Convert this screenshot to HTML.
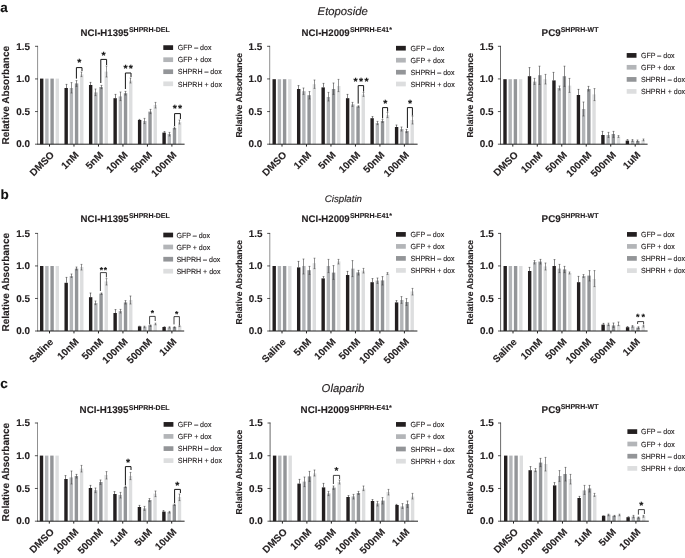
<!DOCTYPE html>
<html><head><meta charset="utf-8"><title>Figure</title>
<style>
html,body{margin:0;padding:0;background:#fff;}
body{width:685px;height:558px;overflow:hidden;}
svg{display:block;font-family:"Liberation Sans", sans-serif;text-rendering:geometricPrecision;}
.b{font-weight:bold;}
.t{stroke:#231f20;stroke-width:0.13px;font-weight:bold;fill:#231f20;}
.u{stroke:#231f20;stroke-width:0.13px;font-size:7px;font-weight:bold;fill:#231f20;}
.l{font-size:7.4px;fill:#231f20;stroke:#231f20;stroke-width:0.12px;}
.h{font-style:italic;fill:#231f20;stroke:#231f20;stroke-width:0.15px;}
.p{stroke:#231f20;stroke-width:0.13px;font-size:13.5px;font-weight:bold;fill:#111;}
.s{font-weight:bold;fill:#111;text-anchor:middle;stroke:#111;stroke-width:0.12px;}
.x{stroke:#231f20;stroke-width:0.13px;font-size:9.95px;font-weight:bold;fill:#231f20;text-anchor:end;}
.y{stroke:#231f20;stroke-width:0.13px;font-size:9.9px;font-weight:bold;fill:#231f20;text-anchor:end;}
.yl{stroke:#231f20;stroke-width:0.13px;font-weight:bold;fill:#231f20;text-anchor:middle;}
</style></head><body>
<svg width="685" height="558" viewBox="0 0 685 558">
<rect x="0" y="0" width="685" height="558" fill="#ffffff"/>
<text class="h" font-size="11.3px" x="317.6" y="14.6">Etoposide</text>
<text class="h" font-size="9.7px" x="324.8" y="202">Cisplatin</text>
<text class="h" font-size="11.3px" x="321.6" y="392">Olaparib</text>
<text class="p" x="0.3" y="12">a</text>
<text class="p" x="0.5" y="199.2">b</text>
<text class="p" x="0.3" y="387.6">c</text>
<g>
<text class="t" font-size="9.62px" x="80.6" y="36">NCI-H1395</text><text class="u" x="128.95" y="32">SHPRH-DEL</text>
<rect x="40" y="78.6" width="3.4" height="65.6" fill="#231f20"/>
<rect x="45.2" y="78.6" width="3.4" height="65.6" fill="#b3b5b8"/>
<rect x="50.4" y="78.6" width="3.4" height="65.6" fill="#939598"/>
<rect x="55.6" y="78.6" width="3.4" height="65.6" fill="#dddedf"/>
<rect x="64.48" y="88" width="3.4" height="56.2" fill="#231f20"/>
<rect x="69.68" y="88" width="3.4" height="56.2" fill="#b3b5b8"/>
<rect x="74.88" y="83.4" width="3.4" height="60.8" fill="#939598"/>
<rect x="80.08" y="74.4" width="3.4" height="69.8" fill="#dddedf"/>
<path d="M66.5 84.4V88M65.6 84.4h1.8" stroke="#3a3a3a" stroke-width="0.62" fill="none"/>
<path d="M71.5 82.6V93M70.6 82.6h1.8M70.6 93h1.8" stroke="#4a4a4a" stroke-width="0.62" fill="none"/>
<path d="M76.5 80.6V86.4M75.6 80.6h1.8M75.6 86.4h1.8" stroke="#444444" stroke-width="0.62" fill="none"/>
<path d="M81.5 72V76.6M80.6 72h1.8M80.6 76.6h1.8" stroke="#505050" stroke-width="0.62" fill="none"/>
<rect x="88.96" y="85" width="3.4" height="59.2" fill="#231f20"/>
<rect x="94.16" y="92.4" width="3.4" height="51.8" fill="#b3b5b8"/>
<rect x="99.36" y="87" width="3.4" height="57.2" fill="#939598"/>
<rect x="104.56" y="71.6" width="3.4" height="72.6" fill="#dddedf"/>
<path d="M90.5 82.4V85M89.6 82.4h1.8" stroke="#3a3a3a" stroke-width="0.62" fill="none"/>
<path d="M95.5 89V95.6M94.6 89h1.8M94.6 95.6h1.8" stroke="#4a4a4a" stroke-width="0.62" fill="none"/>
<path d="M101.5 85.4V88.6M100.6 85.4h1.8M100.6 88.6h1.8" stroke="#444444" stroke-width="0.62" fill="none"/>
<path d="M106.5 66V77M105.6 66h1.8M105.6 77h1.8" stroke="#505050" stroke-width="0.62" fill="none"/>
<rect x="113.44" y="98.2" width="3.4" height="46" fill="#231f20"/>
<rect x="118.64" y="96.4" width="3.4" height="47.8" fill="#b3b5b8"/>
<rect x="123.84" y="93.2" width="3.4" height="51" fill="#939598"/>
<rect x="129.04" y="80.6" width="3.4" height="63.6" fill="#dddedf"/>
<path d="M115.5 94.4V98.2M114.6 94.4h1.8" stroke="#3a3a3a" stroke-width="0.62" fill="none"/>
<path d="M120.5 92V100.6M119.6 92h1.8M119.6 100.6h1.8" stroke="#4a4a4a" stroke-width="0.62" fill="none"/>
<path d="M125.5 91.4V95M124.6 91.4h1.8M124.6 95h1.8" stroke="#444444" stroke-width="0.62" fill="none"/>
<path d="M130.5 78V83M129.6 78h1.8M129.6 83h1.8" stroke="#505050" stroke-width="0.62" fill="none"/>
<rect x="137.92" y="120" width="3.4" height="24.2" fill="#231f20"/>
<rect x="143.12" y="121" width="3.4" height="23.2" fill="#b3b5b8"/>
<rect x="148.32" y="111.6" width="3.4" height="32.6" fill="#939598"/>
<rect x="153.52" y="105" width="3.4" height="39.2" fill="#dddedf"/>
<path d="M139.5 119.4V120M138.6 119.4h1.8" stroke="#3a3a3a" stroke-width="0.62" fill="none"/>
<path d="M144.5 118.4V123.6M143.6 118.4h1.8M143.6 123.6h1.8" stroke="#4a4a4a" stroke-width="0.62" fill="none"/>
<path d="M150.5 109.4V113.6M149.6 109.4h1.8M149.6 113.6h1.8" stroke="#444444" stroke-width="0.62" fill="none"/>
<path d="M155.5 102.4V108M154.6 102.4h1.8M154.6 108h1.8" stroke="#505050" stroke-width="0.62" fill="none"/>
<rect x="162.4" y="132.6" width="3.4" height="11.6" fill="#231f20"/>
<rect x="167.6" y="134" width="3.4" height="10.2" fill="#b3b5b8"/>
<rect x="172.8" y="128" width="3.4" height="16.2" fill="#939598"/>
<rect x="178" y="122" width="3.4" height="22.2" fill="#dddedf"/>
<path d="M164.5 131.6V132.6M163.6 131.6h1.8" stroke="#3a3a3a" stroke-width="0.62" fill="none"/>
<path d="M169.5 132.4V136M168.6 132.4h1.8M168.6 136h1.8" stroke="#4a4a4a" stroke-width="0.62" fill="none"/>
<path d="M174.5 127V129M173.6 127h1.8M173.6 129h1.8" stroke="#444444" stroke-width="0.62" fill="none"/>
<path d="M179.5 120V124M178.6 120h1.8M178.6 124h1.8" stroke="#505050" stroke-width="0.62" fill="none"/>
<path d="M37.6 45.9V144.2" stroke="#444" stroke-width="0.6" fill="none"/>
<path d="M35 46.3H37.9M35 78.93H37.9M35 111.57H37.9M35 144.2H37.9" stroke="#2a2a2a" stroke-width="0.8" fill="none"/>
<path d="M37.3 144.2H184.6M49.5 144.2V146.6M73.98 144.2V146.6M98.46 144.2V146.6M122.94 144.2V146.6M147.42 144.2V146.6M171.9 144.2V146.6" stroke="#222" stroke-width="1" fill="none"/>
<text class="y" x="30.1" y="50">1.5</text>
<text class="y" x="30.1" y="82">1.0</text>
<text class="y" x="30.1" y="115">0.5</text>
<text class="y" x="30.1" y="147">0.0</text>
<text class="yl" font-size="10px" transform="translate(9.1 95.25) rotate(-90) scale(1 1)">Relative Absorbance</text>
<text class="x" transform="translate(54.8 155.6) rotate(-45)">DMSO</text>
<text class="x" transform="translate(79.28 155.6) rotate(-45)">1nM</text>
<text class="x" transform="translate(103.76 155.6) rotate(-45)">5nM</text>
<text class="x" transform="translate(128.24 155.6) rotate(-45)">10nM</text>
<text class="x" transform="translate(152.72 155.6) rotate(-45)">50nM</text>
<text class="x" transform="translate(177.2 155.6) rotate(-45)">100nM</text>
<rect x="163.3" y="45.25" width="9.8" height="4.7" fill="#231f20"/>
<text class="l" transform="translate(177.8 50) scale(0.955 1)">GFP – dox</text>
<rect x="163.3" y="57.35" width="9.8" height="4.7" fill="#b3b5b8"/>
<text class="l" transform="translate(177.8 62) scale(0.955 1)">GFP + dox</text>
<rect x="163.3" y="69.35" width="9.8" height="4.7" fill="#939598"/>
<text class="l" transform="translate(177.8 74) scale(0.955 1)">SHPRH – dox</text>
<rect x="163.3" y="81.45" width="9.8" height="4.7" fill="#dddedf"/>
<text class="l" transform="translate(177.8 87) scale(0.955 1)">SHPRH + dox</text>
<path d="M76.4 78.6V67.6H82V71" stroke="#151515" stroke-width="1" fill="none"/>
<text class="s" font-size="10.5px" letter-spacing="1.32px" x="79.86" y="66.43">*</text>
<path d="M100.8 83V59.4H106.6V65" stroke="#151515" stroke-width="1" fill="none"/>
<text class="s" font-size="10.5px" letter-spacing="1.32px" x="104.26" y="58.83">*</text>
<path d="M125.4 89V73H131V77" stroke="#151515" stroke-width="1" fill="none"/>
<text class="s" font-size="10.5px" letter-spacing="1.32px" x="128.86" y="72.03">**</text>
<path d="M174.6 126V113.6H180.4V119" stroke="#151515" stroke-width="1" fill="none"/>
<text class="s" font-size="10.5px" letter-spacing="1.32px" x="178.06" y="112.43">**</text>
</g>
<g>
<text class="t" font-size="9.62px" x="301.6" y="36">NCI-H2009</text><text class="u" x="349.95" y="32">SHPRH-E41*</text>
<rect x="272.5" y="79.2" width="3.4" height="65" fill="#231f20"/>
<rect x="277.7" y="79.2" width="3.4" height="65" fill="#b3b5b8"/>
<rect x="282.9" y="79.2" width="3.4" height="65" fill="#939598"/>
<rect x="288.1" y="79.2" width="3.4" height="65" fill="#dddedf"/>
<rect x="296.98" y="89" width="3.4" height="55.2" fill="#231f20"/>
<rect x="302.18" y="91.2" width="3.4" height="53" fill="#b3b5b8"/>
<rect x="307.38" y="95.2" width="3.4" height="49" fill="#939598"/>
<rect x="312.58" y="84.2" width="3.4" height="60" fill="#dddedf"/>
<path d="M298.5 85.6V89M297.6 85.6h1.8" stroke="#3a3a3a" stroke-width="0.62" fill="none"/>
<path d="M303.5 88V94.4M302.6 88h1.8M302.6 94.4h1.8" stroke="#4a4a4a" stroke-width="0.62" fill="none"/>
<path d="M309.5 91.6V99M308.6 91.6h1.8M308.6 99h1.8" stroke="#444444" stroke-width="0.62" fill="none"/>
<path d="M314.5 80V88.4M313.6 80h1.8M313.6 88.4h1.8" stroke="#505050" stroke-width="0.62" fill="none"/>
<rect x="321.46" y="87.4" width="3.4" height="56.8" fill="#231f20"/>
<rect x="326.66" y="97" width="3.4" height="47.2" fill="#b3b5b8"/>
<rect x="331.86" y="89" width="3.4" height="55.2" fill="#939598"/>
<rect x="337.06" y="86" width="3.4" height="58.2" fill="#dddedf"/>
<path d="M323.5 83.4V87.4M322.6 83.4h1.8" stroke="#3a3a3a" stroke-width="0.62" fill="none"/>
<path d="M328.5 92.4V101M327.6 92.4h1.8M327.6 101h1.8" stroke="#4a4a4a" stroke-width="0.62" fill="none"/>
<path d="M333.5 83V94.4M332.6 83h1.8M332.6 94.4h1.8" stroke="#444444" stroke-width="0.62" fill="none"/>
<path d="M338.5 79.4V91.6M337.6 79.4h1.8M337.6 91.6h1.8" stroke="#505050" stroke-width="0.62" fill="none"/>
<rect x="345.94" y="98.2" width="3.4" height="46" fill="#231f20"/>
<rect x="351.14" y="104.4" width="3.4" height="39.8" fill="#b3b5b8"/>
<rect x="356.34" y="106.4" width="3.4" height="37.8" fill="#939598"/>
<rect x="361.54" y="94.4" width="3.4" height="49.8" fill="#dddedf"/>
<path d="M347.5 94.4V98.2M346.6 94.4h1.8" stroke="#3a3a3a" stroke-width="0.62" fill="none"/>
<path d="M352.5 102.4V106.4M351.6 102.4h1.8M351.6 106.4h1.8" stroke="#4a4a4a" stroke-width="0.62" fill="none"/>
<path d="M358.5 105.8V107.2M357.6 105.8h1.8M357.6 107.2h1.8" stroke="#444444" stroke-width="0.62" fill="none"/>
<path d="M363.5 92.4V96.4M362.6 92.4h1.8M362.6 96.4h1.8" stroke="#505050" stroke-width="0.62" fill="none"/>
<rect x="370.42" y="118.2" width="3.4" height="26" fill="#231f20"/>
<rect x="375.62" y="123" width="3.4" height="21.2" fill="#b3b5b8"/>
<rect x="380.82" y="121" width="3.4" height="23.2" fill="#939598"/>
<rect x="386.02" y="115.2" width="3.4" height="29" fill="#dddedf"/>
<path d="M372.5 116.6V118.2M371.6 116.6h1.8" stroke="#3a3a3a" stroke-width="0.62" fill="none"/>
<path d="M377.5 121.4V124.6M376.6 121.4h1.8M376.6 124.6h1.8" stroke="#4a4a4a" stroke-width="0.62" fill="none"/>
<path d="M382.5 119.6V122.4M381.6 119.6h1.8M381.6 122.4h1.8" stroke="#444444" stroke-width="0.62" fill="none"/>
<path d="M387.5 112.4V117.6M386.6 112.4h1.8M386.6 117.6h1.8" stroke="#505050" stroke-width="0.62" fill="none"/>
<rect x="394.9" y="127" width="3.4" height="17.2" fill="#231f20"/>
<rect x="400.1" y="129" width="3.4" height="15.2" fill="#b3b5b8"/>
<rect x="405.3" y="131" width="3.4" height="13.2" fill="#939598"/>
<rect x="410.5" y="120" width="3.4" height="24.2" fill="#dddedf"/>
<path d="M396.5 125V127M395.6 125h1.8" stroke="#3a3a3a" stroke-width="0.62" fill="none"/>
<path d="M401.5 127V131M400.6 127h1.8M400.6 131h1.8" stroke="#4a4a4a" stroke-width="0.62" fill="none"/>
<path d="M406.5 129.4V132.6M405.6 129.4h1.8M405.6 132.6h1.8" stroke="#444444" stroke-width="0.62" fill="none"/>
<path d="M412.5 116V124M411.6 116h1.8M411.6 124h1.8" stroke="#505050" stroke-width="0.62" fill="none"/>
<path d="M269.7 45.9V144.2" stroke="#444" stroke-width="0.6" fill="none"/>
<path d="M267.1 46.3H270M267.1 78.93H270M267.1 111.57H270M267.1 144.2H270" stroke="#2a2a2a" stroke-width="0.8" fill="none"/>
<path d="M269.4 144.2H417.6M282 144.2V146.6M306.48 144.2V146.6M330.96 144.2V146.6M355.44 144.2V146.6M379.92 144.2V146.6M404.4 144.2V146.6" stroke="#222" stroke-width="1" fill="none"/>
<text class="y" x="262.3" y="50">1.5</text>
<text class="y" x="262.3" y="82">1.0</text>
<text class="y" x="262.3" y="115">0.5</text>
<text class="y" x="262.3" y="147">0.0</text>
<text class="yl" font-size="8.6px" transform="translate(242.3 95.25) rotate(-90) scale(1 1)">Relative Absorbance</text>
<text class="x" transform="translate(287.3 155.6) rotate(-45)">DMSO</text>
<text class="x" transform="translate(311.78 155.6) rotate(-45)">1nM</text>
<text class="x" transform="translate(336.26 155.6) rotate(-45)">5nM</text>
<text class="x" transform="translate(360.74 155.6) rotate(-45)">10nM</text>
<text class="x" transform="translate(385.22 155.6) rotate(-45)">50nM</text>
<text class="x" transform="translate(409.7 155.6) rotate(-45)">100nM</text>
<rect x="396" y="45.85" width="9.8" height="4.7" fill="#231f20"/>
<text class="l" transform="translate(410.6 51) scale(0.955 1)">GFP – dox</text>
<rect x="396" y="57.85" width="9.8" height="4.7" fill="#b3b5b8"/>
<text class="l" transform="translate(410.6 63) scale(0.955 1)">GFP + dox</text>
<rect x="396" y="69.85" width="9.8" height="4.7" fill="#939598"/>
<text class="l" transform="translate(410.6 75) scale(0.955 1)">SHPRH – dox</text>
<rect x="396" y="81.65" width="9.8" height="4.7" fill="#dddedf"/>
<text class="l" transform="translate(410.6 87) scale(0.955 1)">SHPRH + dox</text>
<path d="M358.2 103.6V85.6H363.6V91.6" stroke="#151515" stroke-width="1" fill="none"/>
<text class="s" font-size="10.5px" letter-spacing="1.42px" x="361.71" y="85.03">***</text>
<path d="M382.6 118.4V107.6H387.6V111.6" stroke="#151515" stroke-width="1" fill="none"/>
<text class="s" font-size="10.5px" letter-spacing="1.42px" x="385.91" y="107.43">*</text>
<path d="M407.4 128V107.6H412.4V115.6" stroke="#151515" stroke-width="1" fill="none"/>
<text class="s" font-size="10.5px" letter-spacing="1.42px" x="410.71" y="107.43">*</text>
</g>
<g>
<text class="t" font-size="9.8px" x="541.6" y="36">PC9</text><text class="u" x="560.7" y="32">SHPRH-WT</text>
<rect x="503.3" y="79.2" width="3.4" height="65" fill="#231f20"/>
<rect x="508.5" y="79.2" width="3.4" height="65" fill="#b3b5b8"/>
<rect x="513.7" y="79.2" width="3.4" height="65" fill="#939598"/>
<rect x="518.9" y="79.2" width="3.4" height="65" fill="#dddedf"/>
<rect x="527.78" y="76.2" width="3.4" height="68" fill="#231f20"/>
<rect x="532.98" y="81.6" width="3.4" height="62.6" fill="#b3b5b8"/>
<rect x="538.18" y="75.2" width="3.4" height="69" fill="#939598"/>
<rect x="543.38" y="79.2" width="3.4" height="65" fill="#dddedf"/>
<path d="M529.5 67.6V76.2M528.6 67.6h1.8" stroke="#3a3a3a" stroke-width="0.62" fill="none"/>
<path d="M534.5 78.4V84.4M533.6 78.4h1.8M533.6 84.4h1.8" stroke="#4a4a4a" stroke-width="0.62" fill="none"/>
<path d="M539.5 66.2V84.4M538.6 66.2h1.8M538.6 84.4h1.8" stroke="#444444" stroke-width="0.62" fill="none"/>
<path d="M545.5 74.4V84M544.6 74.4h1.8M544.6 84h1.8" stroke="#505050" stroke-width="0.62" fill="none"/>
<rect x="552.26" y="80.4" width="3.4" height="63.8" fill="#231f20"/>
<rect x="557.46" y="88" width="3.4" height="56.2" fill="#b3b5b8"/>
<rect x="562.66" y="76.2" width="3.4" height="68" fill="#939598"/>
<rect x="567.86" y="85.6" width="3.4" height="58.6" fill="#dddedf"/>
<path d="M553.5 72.4V80.4M552.6 72.4h1.8" stroke="#3a3a3a" stroke-width="0.62" fill="none"/>
<path d="M559.5 86V90M558.6 86h1.8M558.6 90h1.8" stroke="#4a4a4a" stroke-width="0.62" fill="none"/>
<path d="M564.5 66.2V86.4M563.6 66.2h1.8M563.6 86.4h1.8" stroke="#444444" stroke-width="0.62" fill="none"/>
<path d="M569.5 78.4V92.4M568.6 78.4h1.8M568.6 92.4h1.8" stroke="#505050" stroke-width="0.62" fill="none"/>
<rect x="576.74" y="95" width="3.4" height="49.2" fill="#231f20"/>
<rect x="581.94" y="109" width="3.4" height="35.2" fill="#b3b5b8"/>
<rect x="587.14" y="89" width="3.4" height="55.2" fill="#939598"/>
<rect x="592.34" y="94.4" width="3.4" height="49.8" fill="#dddedf"/>
<path d="M578.5 89.4V95M577.6 89.4h1.8" stroke="#3a3a3a" stroke-width="0.62" fill="none"/>
<path d="M583.5 102V116M582.6 102h1.8M582.6 116h1.8" stroke="#4a4a4a" stroke-width="0.62" fill="none"/>
<path d="M588.5 86.4V91M587.6 86.4h1.8M587.6 91h1.8" stroke="#444444" stroke-width="0.62" fill="none"/>
<path d="M594.5 88.6V100.6M593.6 88.6h1.8M593.6 100.6h1.8" stroke="#505050" stroke-width="0.62" fill="none"/>
<rect x="601.22" y="135" width="3.4" height="9.2" fill="#231f20"/>
<rect x="606.42" y="135" width="3.4" height="9.2" fill="#b3b5b8"/>
<rect x="611.62" y="134" width="3.4" height="10.2" fill="#939598"/>
<rect x="616.82" y="136.6" width="3.4" height="7.6" fill="#dddedf"/>
<path d="M602.5 131.4V135M601.6 131.4h1.8" stroke="#3a3a3a" stroke-width="0.62" fill="none"/>
<path d="M608.5 132.4V137.4M607.6 132.4h1.8M607.6 137.4h1.8" stroke="#4a4a4a" stroke-width="0.62" fill="none"/>
<path d="M613.5 131.4V137.4M612.6 131.4h1.8M612.6 137.4h1.8" stroke="#444444" stroke-width="0.62" fill="none"/>
<path d="M618.5 135.6V137.4M617.6 135.6h1.8M617.6 137.4h1.8" stroke="#505050" stroke-width="0.62" fill="none"/>
<rect x="625.7" y="140.6" width="3.4" height="3.6" fill="#231f20"/>
<rect x="630.9" y="140.6" width="3.4" height="3.6" fill="#b3b5b8"/>
<rect x="636.1" y="141" width="3.4" height="3.2" fill="#939598"/>
<rect x="641.3" y="140" width="3.4" height="4.2" fill="#dddedf"/>
<path d="M627.5 139.6V140.6M626.6 139.6h1.8" stroke="#3a3a3a" stroke-width="0.62" fill="none"/>
<path d="M632.5 139.6V141.4M631.6 139.6h1.8M631.6 141.4h1.8" stroke="#4a4a4a" stroke-width="0.62" fill="none"/>
<path d="M637.5 140V141.8M636.6 140h1.8M636.6 141.8h1.8" stroke="#444444" stroke-width="0.62" fill="none"/>
<path d="M643.5 139V140.8M642.6 139h1.8M642.6 140.8h1.8" stroke="#505050" stroke-width="0.62" fill="none"/>
<path d="M500.5 45.9V144.2" stroke="#444" stroke-width="0.8" fill="none"/>
<path d="M497.9 46.3H500.8M497.9 78.93H500.8M497.9 111.57H500.8M497.9 144.2H500.8" stroke="#2a2a2a" stroke-width="0.8" fill="none"/>
<path d="M500.2 144.2H647.6M512.8 144.2V146.6M537.28 144.2V146.6M561.76 144.2V146.6M586.24 144.2V146.6M610.72 144.2V146.6M635.2 144.2V146.6" stroke="#222" stroke-width="1" fill="none"/>
<text class="y" x="493.6" y="50">1.5</text>
<text class="y" x="493.6" y="82">1.0</text>
<text class="y" x="493.6" y="115">0.5</text>
<text class="y" x="493.6" y="147">0.0</text>
<text class="yl" font-size="8.6px" transform="translate(473.3 95.25) rotate(-90) scale(1 1)">Relative Absorbance</text>
<text class="x" transform="translate(518.6 155.6) rotate(-45)">DMSO</text>
<text class="x" transform="translate(543.08 155.6) rotate(-45)">10nM</text>
<text class="x" transform="translate(567.56 155.6) rotate(-45)">50nM</text>
<text class="x" transform="translate(592.04 155.6) rotate(-45)">100nM</text>
<text class="x" transform="translate(616.52 155.6) rotate(-45)">500nM</text>
<text class="x" transform="translate(641 155.6) rotate(-45)">1uM</text>
<rect x="626.7" y="53.05" width="9.8" height="4.7" fill="#231f20"/>
<text class="l" transform="translate(641 58) scale(0.955 1)">GFP – dox</text>
<rect x="626.7" y="64.95" width="9.8" height="4.7" fill="#b3b5b8"/>
<text class="l" transform="translate(641 70) scale(0.955 1)">GFP + dox</text>
<rect x="626.7" y="77.05" width="9.8" height="4.7" fill="#939598"/>
<text class="l" transform="translate(641 82) scale(0.955 1)">SHPRH – dox</text>
<rect x="626.7" y="89.05" width="9.8" height="4.7" fill="#dddedf"/>
<text class="l" transform="translate(641 94) scale(0.955 1)">SHPRH + dox</text>
</g>
<g>
<text class="t" font-size="9.62px" x="80.6" y="222">NCI-H1395</text><text class="u" x="128.95" y="218">SHPRH-DEL</text>
<rect x="40" y="266" width="3.4" height="65" fill="#231f20"/>
<rect x="45.2" y="266" width="3.4" height="65" fill="#b3b5b8"/>
<rect x="50.4" y="266" width="3.4" height="65" fill="#939598"/>
<rect x="55.6" y="266" width="3.4" height="65" fill="#dddedf"/>
<rect x="64.48" y="282.8" width="3.4" height="48.2" fill="#231f20"/>
<rect x="69.68" y="276" width="3.4" height="55" fill="#b3b5b8"/>
<rect x="74.88" y="268.6" width="3.4" height="62.4" fill="#939598"/>
<rect x="80.08" y="267" width="3.4" height="64" fill="#dddedf"/>
<path d="M66.5 277.4V282.8M65.6 277.4h1.8" stroke="#3a3a3a" stroke-width="0.62" fill="none"/>
<path d="M71.5 274V277.4M70.6 274h1.8M70.6 277.4h1.8" stroke="#4a4a4a" stroke-width="0.62" fill="none"/>
<path d="M76.5 267V270M75.6 267h1.8M75.6 270h1.8" stroke="#444444" stroke-width="0.62" fill="none"/>
<path d="M81.5 264.4V270M80.6 264.4h1.8M80.6 270h1.8" stroke="#505050" stroke-width="0.62" fill="none"/>
<rect x="88.96" y="297.2" width="3.4" height="33.8" fill="#231f20"/>
<rect x="94.16" y="303" width="3.4" height="28" fill="#b3b5b8"/>
<rect x="99.36" y="293.6" width="3.4" height="37.4" fill="#939598"/>
<rect x="104.56" y="281.4" width="3.4" height="49.6" fill="#dddedf"/>
<path d="M90.5 293V297.2M89.6 293h1.8" stroke="#3a3a3a" stroke-width="0.62" fill="none"/>
<path d="M95.5 301V304.6M94.6 301h1.8M94.6 304.6h1.8" stroke="#4a4a4a" stroke-width="0.62" fill="none"/>
<path d="M101.5 293V294.4M100.6 293h1.8M100.6 294.4h1.8" stroke="#444444" stroke-width="0.62" fill="none"/>
<path d="M106.5 278.6V285M105.6 278.6h1.8M105.6 285h1.8" stroke="#505050" stroke-width="0.62" fill="none"/>
<rect x="113.44" y="313" width="3.4" height="18" fill="#231f20"/>
<rect x="118.64" y="311" width="3.4" height="20" fill="#b3b5b8"/>
<rect x="123.84" y="302.4" width="3.4" height="28.6" fill="#939598"/>
<rect x="129.04" y="300" width="3.4" height="31" fill="#dddedf"/>
<path d="M115.5 309.6V313M114.6 309.6h1.8" stroke="#3a3a3a" stroke-width="0.62" fill="none"/>
<path d="M120.5 309.4V313M119.6 309.4h1.8M119.6 313h1.8" stroke="#4a4a4a" stroke-width="0.62" fill="none"/>
<path d="M125.5 300.6V304M124.6 300.6h1.8M124.6 304h1.8" stroke="#444444" stroke-width="0.62" fill="none"/>
<path d="M130.5 296V304M129.6 296h1.8M129.6 304h1.8" stroke="#505050" stroke-width="0.62" fill="none"/>
<rect x="137.92" y="326.4" width="3.4" height="4.6" fill="#231f20"/>
<rect x="143.12" y="326.6" width="3.4" height="4.4" fill="#b3b5b8"/>
<rect x="148.32" y="325.2" width="3.4" height="5.8" fill="#939598"/>
<rect x="153.52" y="324" width="3.4" height="7" fill="#dddedf"/>
<path d="M139.5 326.2V326.4M138.6 326.2h1.8" stroke="#3a3a3a" stroke-width="0.62" fill="none"/>
<path d="M144.5 326.2V327.8M143.6 326.2h1.8M143.6 327.8h1.8" stroke="#4a4a4a" stroke-width="0.62" fill="none"/>
<path d="M150.5 325V326.4M149.6 325h1.8M149.6 326.4h1.8" stroke="#444444" stroke-width="0.62" fill="none"/>
<path d="M155.5 323.2V324.8M154.6 323.2h1.8M154.6 324.8h1.8" stroke="#505050" stroke-width="0.62" fill="none"/>
<rect x="162.4" y="327" width="3.4" height="4" fill="#231f20"/>
<rect x="167.6" y="327.4" width="3.4" height="3.6" fill="#b3b5b8"/>
<rect x="172.8" y="327" width="3.4" height="4" fill="#939598"/>
<rect x="178" y="326" width="3.4" height="5" fill="#dddedf"/>
<path d="M164.5 326.8V327M163.6 326.8h1.8" stroke="#3a3a3a" stroke-width="0.62" fill="none"/>
<path d="M169.5 326.8V328M168.6 326.8h1.8M168.6 328h1.8" stroke="#4a4a4a" stroke-width="0.62" fill="none"/>
<path d="M174.5 326.8V328M173.6 326.8h1.8M173.6 328h1.8" stroke="#444444" stroke-width="0.62" fill="none"/>
<path d="M179.5 325.4V326.6M178.6 325.4h1.8M178.6 326.6h1.8" stroke="#505050" stroke-width="0.62" fill="none"/>
<path d="M37.6 233V331" stroke="#444" stroke-width="0.6" fill="none"/>
<path d="M35 233.4H37.9M35 265.93H37.9M35 298.47H37.9M35 331H37.9" stroke="#2a2a2a" stroke-width="0.8" fill="none"/>
<path d="M37.3 331H184.2M49.5 331V333.4M73.98 331V333.4M98.46 331V333.4M122.94 331V333.4M147.42 331V333.4M171.9 331V333.4" stroke="#222" stroke-width="1" fill="none"/>
<text class="y" x="30.1" y="237">1.5</text>
<text class="y" x="30.1" y="269">1.0</text>
<text class="y" x="30.1" y="302">0.5</text>
<text class="y" x="30.1" y="334">0.0</text>
<text class="yl" font-size="10px" transform="translate(9.1 282.2) rotate(-90) scale(1 1)">Relative Absorbance</text>
<text class="x" transform="translate(53.9 342.6) rotate(-45)">Saline</text>
<text class="x" transform="translate(79.28 342.4) rotate(-45)">10nM</text>
<text class="x" transform="translate(103.76 342.4) rotate(-45)">50nM</text>
<text class="x" transform="translate(128.24 342.4) rotate(-45)">100nM</text>
<text class="x" transform="translate(152.72 342.4) rotate(-45)">500nM</text>
<text class="x" transform="translate(177.2 342.4) rotate(-45)">1uM</text>
<rect x="163.3" y="232.65" width="9.8" height="4.7" fill="#231f20"/>
<text class="l" transform="translate(176.4 238) scale(0.955 1)">GFP – dox</text>
<rect x="163.3" y="244.65" width="9.8" height="4.7" fill="#b3b5b8"/>
<text class="l" transform="translate(176.4 250) scale(0.955 1)">GFP + dox</text>
<rect x="163.3" y="256.85" width="9.8" height="4.7" fill="#939598"/>
<text class="l" transform="translate(176.4 262) scale(0.955 1)">SHPRH – dox</text>
<rect x="163.3" y="268.85" width="9.8" height="4.7" fill="#dddedf"/>
<text class="l" transform="translate(176.4 274) scale(0.955 1)">SHPRH + dox</text>
<path d="M100.4 291V272.6H106.4V277.4" stroke="#151515" stroke-width="0.8" fill="none"/>
<text class="s" font-size="8.5px" letter-spacing="0.59px" x="103.7" y="273.02">**</text>
<path d="M149.6 324.4V316.4H155.2V321" stroke="#151515" stroke-width="0.8" fill="none"/>
<text class="s" font-size="8.5px" letter-spacing="0.59px" x="152.7" y="316.42">*</text>
<path d="M174 324.4V316.6H179.4V325" stroke="#151515" stroke-width="0.8" fill="none"/>
<text class="s" font-size="8.5px" letter-spacing="0.59px" x="176.9" y="317.02">*</text>
</g>
<g>
<text class="t" font-size="9.62px" x="301.6" y="222">NCI-H2009</text><text class="u" x="349.95" y="218">SHPRH-E41*</text>
<rect x="272.5" y="266" width="3.4" height="65" fill="#231f20"/>
<rect x="277.7" y="266" width="3.4" height="65" fill="#b3b5b8"/>
<rect x="282.9" y="266" width="3.4" height="65" fill="#939598"/>
<rect x="288.1" y="266" width="3.4" height="65" fill="#dddedf"/>
<rect x="296.98" y="267.4" width="3.4" height="63.6" fill="#231f20"/>
<rect x="302.18" y="266" width="3.4" height="65" fill="#b3b5b8"/>
<rect x="307.38" y="270.2" width="3.4" height="60.8" fill="#939598"/>
<rect x="312.58" y="263.2" width="3.4" height="67.8" fill="#dddedf"/>
<path d="M298.5 261.4V267.4M297.6 261.4h1.8" stroke="#3a3a3a" stroke-width="0.62" fill="none"/>
<path d="M303.5 259V274M302.6 259h1.8M302.6 274h1.8" stroke="#4a4a4a" stroke-width="0.62" fill="none"/>
<path d="M309.5 266.4V274.4M308.6 266.4h1.8M308.6 274.4h1.8" stroke="#444444" stroke-width="0.62" fill="none"/>
<path d="M314.5 258.2V268.6M313.6 258.2h1.8M313.6 268.6h1.8" stroke="#505050" stroke-width="0.62" fill="none"/>
<rect x="321.46" y="278.4" width="3.4" height="52.6" fill="#231f20"/>
<rect x="326.66" y="266" width="3.4" height="65" fill="#b3b5b8"/>
<rect x="331.86" y="272.6" width="3.4" height="58.4" fill="#939598"/>
<rect x="337.06" y="261.4" width="3.4" height="69.6" fill="#dddedf"/>
<path d="M323.5 276.6V278.4M322.6 276.6h1.8" stroke="#3a3a3a" stroke-width="0.62" fill="none"/>
<path d="M328.5 259.4V272.6M327.6 259.4h1.8M327.6 272.6h1.8" stroke="#4a4a4a" stroke-width="0.62" fill="none"/>
<path d="M333.5 265.6V279.4M332.6 265.6h1.8M332.6 279.4h1.8" stroke="#444444" stroke-width="0.62" fill="none"/>
<path d="M338.5 259.4V264M337.6 259.4h1.8M337.6 264h1.8" stroke="#505050" stroke-width="0.62" fill="none"/>
<rect x="345.94" y="275" width="3.4" height="56" fill="#231f20"/>
<rect x="351.14" y="268.6" width="3.4" height="62.4" fill="#b3b5b8"/>
<rect x="356.34" y="272.4" width="3.4" height="58.6" fill="#939598"/>
<rect x="361.54" y="270.6" width="3.4" height="60.4" fill="#dddedf"/>
<path d="M347.5 271.4V275M346.6 271.4h1.8" stroke="#3a3a3a" stroke-width="0.62" fill="none"/>
<path d="M352.5 260.6V276.6M351.6 260.6h1.8M351.6 276.6h1.8" stroke="#4a4a4a" stroke-width="0.62" fill="none"/>
<path d="M358.5 270.4V275M357.6 270.4h1.8M357.6 275h1.8" stroke="#444444" stroke-width="0.62" fill="none"/>
<path d="M363.5 268.4V273M362.6 268.4h1.8M362.6 273h1.8" stroke="#505050" stroke-width="0.62" fill="none"/>
<rect x="370.42" y="282.2" width="3.4" height="48.8" fill="#231f20"/>
<rect x="375.62" y="280.6" width="3.4" height="50.4" fill="#b3b5b8"/>
<rect x="380.82" y="280.4" width="3.4" height="50.6" fill="#939598"/>
<rect x="386.02" y="273.6" width="3.4" height="57.4" fill="#dddedf"/>
<path d="M372.5 278.6V282.2M371.6 278.6h1.8" stroke="#3a3a3a" stroke-width="0.62" fill="none"/>
<path d="M377.5 278V283.4M376.6 278h1.8M376.6 283.4h1.8" stroke="#4a4a4a" stroke-width="0.62" fill="none"/>
<path d="M382.5 276.6V285M381.6 276.6h1.8M381.6 285h1.8" stroke="#444444" stroke-width="0.62" fill="none"/>
<path d="M387.5 272.6V274.4M386.6 272.6h1.8M386.6 274.4h1.8" stroke="#505050" stroke-width="0.62" fill="none"/>
<rect x="394.9" y="302.4" width="3.4" height="28.6" fill="#231f20"/>
<rect x="400.1" y="300" width="3.4" height="31" fill="#b3b5b8"/>
<rect x="405.3" y="302" width="3.4" height="29" fill="#939598"/>
<rect x="410.5" y="291.4" width="3.4" height="39.6" fill="#dddedf"/>
<path d="M396.5 300.6V302.4M395.6 300.6h1.8" stroke="#3a3a3a" stroke-width="0.62" fill="none"/>
<path d="M401.5 296.6V303.4M400.6 296.6h1.8M400.6 303.4h1.8" stroke="#4a4a4a" stroke-width="0.62" fill="none"/>
<path d="M406.5 298.6V305.4M405.6 298.6h1.8M405.6 305.4h1.8" stroke="#444444" stroke-width="0.62" fill="none"/>
<path d="M412.5 288.4V295M411.6 288.4h1.8M411.6 295h1.8" stroke="#505050" stroke-width="0.62" fill="none"/>
<path d="M269.8 233V331" stroke="#444" stroke-width="0.6" fill="none"/>
<path d="M267.2 233.4H270.1M267.2 265.93H270.1M267.2 298.47H270.1M267.2 331H270.1" stroke="#2a2a2a" stroke-width="0.8" fill="none"/>
<path d="M269.5 331H417.4M282 331V333.4M306.48 331V333.4M330.96 331V333.4M355.44 331V333.4M379.92 331V333.4M404.4 331V333.4" stroke="#222" stroke-width="1" fill="none"/>
<text class="y" x="262.4" y="237">1.5</text>
<text class="y" x="262.4" y="269">1.0</text>
<text class="y" x="262.4" y="302">0.5</text>
<text class="y" x="262.4" y="334">0.0</text>
<text class="yl" font-size="8.6px" transform="translate(242.3 282.2) rotate(-90) scale(1 1)">Relative Absorbance</text>
<text class="x" transform="translate(286.4 342.6) rotate(-45)">Saline</text>
<text class="x" transform="translate(311.78 342.4) rotate(-45)">5nM</text>
<text class="x" transform="translate(336.26 342.4) rotate(-45)">10nM</text>
<text class="x" transform="translate(360.74 342.4) rotate(-45)">50nM</text>
<text class="x" transform="translate(385.22 342.4) rotate(-45)">100nM</text>
<text class="x" transform="translate(409.7 342.4) rotate(-45)">500nM</text>
<rect x="396" y="232.05" width="9.8" height="4.7" fill="#231f20"/>
<text class="l" transform="translate(410.6 237) scale(0.955 1)">GFP – dox</text>
<rect x="396" y="244.05" width="9.8" height="4.7" fill="#b3b5b8"/>
<text class="l" transform="translate(410.6 249) scale(0.955 1)">GFP + dox</text>
<rect x="396" y="256.05" width="9.8" height="4.7" fill="#939598"/>
<text class="l" transform="translate(410.6 261) scale(0.955 1)">SHPRH – dox</text>
<rect x="396" y="268.05" width="9.8" height="4.7" fill="#dddedf"/>
<text class="l" transform="translate(410.6 273) scale(0.955 1)">SHPRH + dox</text>
</g>
<g>
<text class="t" font-size="9.8px" x="541.6" y="222">PC9</text><text class="u" x="560.7" y="218">SHPRH-WT</text>
<rect x="503.5" y="266" width="3.4" height="65" fill="#231f20"/>
<rect x="508.7" y="266" width="3.4" height="65" fill="#b3b5b8"/>
<rect x="513.9" y="266" width="3.4" height="65" fill="#939598"/>
<rect x="519.1" y="266" width="3.4" height="65" fill="#dddedf"/>
<rect x="527.98" y="271" width="3.4" height="60" fill="#231f20"/>
<rect x="533.18" y="262" width="3.4" height="69" fill="#b3b5b8"/>
<rect x="538.38" y="261.6" width="3.4" height="69.4" fill="#939598"/>
<rect x="543.58" y="266.4" width="3.4" height="64.6" fill="#dddedf"/>
<path d="M529.5 267.4V271M528.6 267.4h1.8" stroke="#3a3a3a" stroke-width="0.62" fill="none"/>
<path d="M534.5 260.6V264M533.6 260.6h1.8M533.6 264h1.8" stroke="#4a4a4a" stroke-width="0.62" fill="none"/>
<path d="M540.5 259.4V264M539.6 259.4h1.8M539.6 264h1.8" stroke="#444444" stroke-width="0.62" fill="none"/>
<path d="M545.5 263V270M544.6 263h1.8M544.6 270h1.8" stroke="#505050" stroke-width="0.62" fill="none"/>
<rect x="552.46" y="266" width="3.4" height="65" fill="#231f20"/>
<rect x="557.66" y="268.6" width="3.4" height="62.4" fill="#b3b5b8"/>
<rect x="562.86" y="269.4" width="3.4" height="61.6" fill="#939598"/>
<rect x="568.06" y="273" width="3.4" height="58" fill="#dddedf"/>
<path d="M554.5 259.6V266M553.6 259.6h1.8" stroke="#3a3a3a" stroke-width="0.62" fill="none"/>
<path d="M559.5 264.4V272.6M558.6 264.4h1.8M558.6 272.6h1.8" stroke="#4a4a4a" stroke-width="0.62" fill="none"/>
<path d="M564.5 266.4V272.6M563.6 266.4h1.8M563.6 272.6h1.8" stroke="#444444" stroke-width="0.62" fill="none"/>
<path d="M569.5 272V274M568.6 272h1.8M568.6 274h1.8" stroke="#505050" stroke-width="0.62" fill="none"/>
<rect x="576.94" y="282.2" width="3.4" height="48.8" fill="#231f20"/>
<rect x="582.14" y="276" width="3.4" height="55" fill="#b3b5b8"/>
<rect x="587.34" y="275.6" width="3.4" height="55.4" fill="#939598"/>
<rect x="592.54" y="279" width="3.4" height="52" fill="#dddedf"/>
<path d="M578.5 276.4V282.2M577.6 276.4h1.8" stroke="#3a3a3a" stroke-width="0.62" fill="none"/>
<path d="M583.5 274.6V277.4M582.6 274.6h1.8M582.6 277.4h1.8" stroke="#4a4a4a" stroke-width="0.62" fill="none"/>
<path d="M589.5 270.6V281M588.6 270.6h1.8M588.6 281h1.8" stroke="#444444" stroke-width="0.62" fill="none"/>
<path d="M594.5 270.6V286.6M593.6 270.6h1.8M593.6 286.6h1.8" stroke="#505050" stroke-width="0.62" fill="none"/>
<rect x="601.42" y="324.6" width="3.4" height="6.4" fill="#231f20"/>
<rect x="606.62" y="324.4" width="3.4" height="6.6" fill="#b3b5b8"/>
<rect x="611.82" y="325.4" width="3.4" height="5.6" fill="#939598"/>
<rect x="617.02" y="324.8" width="3.4" height="6.2" fill="#dddedf"/>
<path d="M603.5 323.4V324.6M602.6 323.4h1.8" stroke="#3a3a3a" stroke-width="0.62" fill="none"/>
<path d="M608.5 323.2V325.6M607.6 323.2h1.8M607.6 325.6h1.8" stroke="#4a4a4a" stroke-width="0.62" fill="none"/>
<path d="M613.5 323V327.4M612.6 323h1.8M612.6 327.4h1.8" stroke="#444444" stroke-width="0.62" fill="none"/>
<path d="M618.5 322V325.6M617.6 322h1.8M617.6 325.6h1.8" stroke="#505050" stroke-width="0.62" fill="none"/>
<rect x="625.9" y="327.2" width="3.4" height="3.8" fill="#231f20"/>
<rect x="631.1" y="326.4" width="3.4" height="4.6" fill="#b3b5b8"/>
<rect x="636.3" y="327.6" width="3.4" height="3.4" fill="#939598"/>
<rect x="641.5" y="326.2" width="3.4" height="4.8" fill="#dddedf"/>
<path d="M627.5 326.6V327.2M626.6 326.6h1.8" stroke="#3a3a3a" stroke-width="0.62" fill="none"/>
<path d="M632.5 325.6V327.2M631.6 325.6h1.8M631.6 327.2h1.8" stroke="#4a4a4a" stroke-width="0.62" fill="none"/>
<path d="M638.5 326.8V328.4M637.6 326.8h1.8M637.6 328.4h1.8" stroke="#444444" stroke-width="0.62" fill="none"/>
<path d="M643.5 325.4V327M642.6 325.4h1.8M642.6 327h1.8" stroke="#505050" stroke-width="0.62" fill="none"/>
<path d="M500.6 233V331" stroke="#444" stroke-width="0.8" fill="none"/>
<path d="M498 233.4H500.9M498 265.93H500.9M498 298.47H500.9M498 331H500.9" stroke="#2a2a2a" stroke-width="0.8" fill="none"/>
<path d="M500.3 331H647.6M513 331V333.4M537.48 331V333.4M561.96 331V333.4M586.44 331V333.4M610.92 331V333.4M635.4 331V333.4" stroke="#222" stroke-width="1" fill="none"/>
<text class="y" x="493.7" y="237">1.5</text>
<text class="y" x="493.7" y="269">1.0</text>
<text class="y" x="493.7" y="302">0.5</text>
<text class="y" x="493.7" y="334">0.0</text>
<text class="yl" font-size="8.6px" transform="translate(473.3 282.2) rotate(-90) scale(1 1)">Relative Absorbance</text>
<text class="x" transform="translate(517.4 342.6) rotate(-45)">Saline</text>
<text class="x" transform="translate(542.78 342.4) rotate(-45)">10nM</text>
<text class="x" transform="translate(567.26 342.4) rotate(-45)">50nM</text>
<text class="x" transform="translate(591.74 342.4) rotate(-45)">100nM</text>
<text class="x" transform="translate(616.22 342.4) rotate(-45)">500nM</text>
<text class="x" transform="translate(640.7 342.4) rotate(-45)">1uM</text>
<rect x="627" y="232.05" width="9.8" height="4.7" fill="#231f20"/>
<text class="l" transform="translate(641 237) scale(0.955 1)">GFP – dox</text>
<rect x="627" y="244.05" width="9.8" height="4.7" fill="#b3b5b8"/>
<text class="l" transform="translate(641 249) scale(0.955 1)">GFP + dox</text>
<rect x="627" y="256.05" width="9.8" height="4.7" fill="#939598"/>
<text class="l" transform="translate(641 261) scale(0.955 1)">SHPRH – dox</text>
<rect x="627" y="268.25" width="9.8" height="4.7" fill="#dddedf"/>
<text class="l" transform="translate(641 273) scale(0.955 1)">SHPRH + dox</text>
<path d="M637.6 324V321.6H643.6V324.4" stroke="#151515" stroke-width="0.8" fill="none"/>
<text class="s" font-size="9px" letter-spacing="2px" x="641.4" y="320.07">**</text>
</g>
<g>
<text class="t" font-size="9.78px" x="79.6" y="413">NCI-H1395</text><text class="u" x="128.75" y="410">SHPRH-DEL</text>
<rect x="39.8" y="455.6" width="3.4" height="65.6" fill="#231f20"/>
<rect x="45" y="455.6" width="3.4" height="65.6" fill="#b3b5b8"/>
<rect x="50.2" y="455.6" width="3.4" height="65.6" fill="#939598"/>
<rect x="55.4" y="455.6" width="3.4" height="65.6" fill="#dddedf"/>
<rect x="64.28" y="479" width="3.4" height="42.2" fill="#231f20"/>
<rect x="69.48" y="477.4" width="3.4" height="43.8" fill="#b3b5b8"/>
<rect x="74.68" y="476" width="3.4" height="45.2" fill="#939598"/>
<rect x="79.88" y="468.6" width="3.4" height="52.6" fill="#dddedf"/>
<path d="M65.5 475.6V479M64.6 475.6h1.8" stroke="#3a3a3a" stroke-width="0.62" fill="none"/>
<path d="M71.5 471V484M70.6 471h1.8M70.6 484h1.8" stroke="#4a4a4a" stroke-width="0.62" fill="none"/>
<path d="M76.5 474.4V478M75.6 474.4h1.8M75.6 478h1.8" stroke="#444444" stroke-width="0.62" fill="none"/>
<path d="M81.5 465.4V472M80.6 465.4h1.8M80.6 472h1.8" stroke="#505050" stroke-width="0.62" fill="none"/>
<rect x="88.76" y="488" width="3.4" height="33.2" fill="#231f20"/>
<rect x="93.96" y="490.2" width="3.4" height="31" fill="#b3b5b8"/>
<rect x="99.16" y="482" width="3.4" height="39.2" fill="#939598"/>
<rect x="104.36" y="475" width="3.4" height="46.2" fill="#dddedf"/>
<path d="M90.5 485.4V488M89.6 485.4h1.8" stroke="#3a3a3a" stroke-width="0.62" fill="none"/>
<path d="M95.5 488V492.6M94.6 488h1.8M94.6 492.6h1.8" stroke="#4a4a4a" stroke-width="0.62" fill="none"/>
<path d="M100.5 480V484.4M99.6 480h1.8M99.6 484.4h1.8" stroke="#444444" stroke-width="0.62" fill="none"/>
<path d="M106.5 471.6V479M105.6 471.6h1.8M105.6 479h1.8" stroke="#505050" stroke-width="0.62" fill="none"/>
<rect x="113.24" y="494" width="3.4" height="27.2" fill="#231f20"/>
<rect x="118.44" y="495" width="3.4" height="26.2" fill="#b3b5b8"/>
<rect x="123.64" y="487" width="3.4" height="34.2" fill="#939598"/>
<rect x="128.84" y="476" width="3.4" height="45.2" fill="#dddedf"/>
<path d="M114.5 491.6V494M113.6 491.6h1.8" stroke="#3a3a3a" stroke-width="0.62" fill="none"/>
<path d="M120.5 492.4V498M119.6 492.4h1.8M119.6 498h1.8" stroke="#4a4a4a" stroke-width="0.62" fill="none"/>
<path d="M125.5 486.4V487.6M124.6 486.4h1.8M124.6 487.6h1.8" stroke="#444444" stroke-width="0.62" fill="none"/>
<path d="M130.5 472.4V479.6M129.6 472.4h1.8M129.6 479.6h1.8" stroke="#505050" stroke-width="0.62" fill="none"/>
<rect x="137.72" y="507" width="3.4" height="14.2" fill="#231f20"/>
<rect x="142.92" y="508.4" width="3.4" height="12.8" fill="#b3b5b8"/>
<rect x="148.12" y="500" width="3.4" height="21.2" fill="#939598"/>
<rect x="153.32" y="493.6" width="3.4" height="27.6" fill="#dddedf"/>
<path d="M139.5 505.4V507M138.6 505.4h1.8" stroke="#3a3a3a" stroke-width="0.62" fill="none"/>
<path d="M144.5 506.4V510.4M143.6 506.4h1.8M143.6 510.4h1.8" stroke="#4a4a4a" stroke-width="0.62" fill="none"/>
<path d="M149.5 498.6V501.6M148.6 498.6h1.8M148.6 501.6h1.8" stroke="#444444" stroke-width="0.62" fill="none"/>
<path d="M155.5 491V496.6M154.6 491h1.8M154.6 496.6h1.8" stroke="#505050" stroke-width="0.62" fill="none"/>
<rect x="162.2" y="511.6" width="3.4" height="9.6" fill="#231f20"/>
<rect x="167.4" y="512" width="3.4" height="9.2" fill="#b3b5b8"/>
<rect x="172.6" y="504.6" width="3.4" height="16.6" fill="#939598"/>
<rect x="177.8" y="497" width="3.4" height="24.2" fill="#dddedf"/>
<path d="M163.5 510.6V511.6M162.6 510.6h1.8" stroke="#3a3a3a" stroke-width="0.62" fill="none"/>
<path d="M169.5 511.4V513M168.6 511.4h1.8M168.6 513h1.8" stroke="#4a4a4a" stroke-width="0.62" fill="none"/>
<path d="M174.5 504V505.4M173.6 504h1.8M173.6 505.4h1.8" stroke="#444444" stroke-width="0.62" fill="none"/>
<path d="M179.5 494V500.6M178.6 494h1.8M178.6 500.6h1.8" stroke="#505050" stroke-width="0.62" fill="none"/>
<path d="M37.5 422.6V521.2" stroke="#444" stroke-width="0.6" fill="none"/>
<path d="M34.9 423H37.8M34.9 455.73H37.8M34.9 488.47H37.8M34.9 521.2H37.8" stroke="#2a2a2a" stroke-width="0.8" fill="none"/>
<path d="M37.2 521.2H184.6M49.3 521.2V523.6M73.78 521.2V523.6M98.26 521.2V523.6M122.74 521.2V523.6M147.22 521.2V523.6M171.7 521.2V523.6" stroke="#222" stroke-width="1" fill="none"/>
<text class="y" x="30" y="426">1.5</text>
<text class="y" x="30" y="459">1.0</text>
<text class="y" x="30" y="492">0.5</text>
<text class="y" x="30" y="524">0.0</text>
<text class="yl" font-size="10px" transform="translate(9.1 472.1) rotate(-90) scale(1 1)">Relative Absorbance</text>
<text class="x" transform="translate(54.6 532.6) rotate(-45)">DMSO</text>
<text class="x" transform="translate(79.08 532.6) rotate(-45)">100nM</text>
<text class="x" transform="translate(103.56 532.6) rotate(-45)">500nM</text>
<text class="x" transform="translate(128.04 532.6) rotate(-45)">1uM</text>
<text class="x" transform="translate(152.52 532.6) rotate(-45)">5uM</text>
<text class="x" transform="translate(177 532.6) rotate(-45)">10uM</text>
<rect x="163.6" y="422.05" width="9.8" height="4.7" fill="#231f20"/>
<text class="l" transform="translate(177.8 427) scale(0.955 1)">GFP – dox</text>
<rect x="163.6" y="434.05" width="9.8" height="4.7" fill="#b3b5b8"/>
<text class="l" transform="translate(177.8 439) scale(0.955 1)">GFP + dox</text>
<rect x="163.6" y="446.25" width="9.8" height="4.7" fill="#939598"/>
<text class="l" transform="translate(177.8 451) scale(0.955 1)">SHPRH – dox</text>
<rect x="163.6" y="458.25" width="9.8" height="4.7" fill="#dddedf"/>
<text class="l" transform="translate(177.8 463) scale(0.955 1)">SHPRH + dox</text>
<path d="M125.4 485.4V466.6H131V470" stroke="#151515" stroke-width="1" fill="none"/>
<text class="s" font-size="10.5px" letter-spacing="1.32px" x="128.66" y="465.83">*</text>
<path d="M174.6 503V489.4H180.4V493" stroke="#151515" stroke-width="1" fill="none"/>
<text class="s" font-size="10.5px" letter-spacing="1.32px" x="178.06" y="489.03">*</text>
</g>
<g>
<text class="t" font-size="9.78px" x="300.6" y="413">NCI-H2009</text><text class="u" x="349.75" y="410">SHPRH-E41*</text>
<rect x="272.9" y="455.6" width="3.4" height="65.6" fill="#231f20"/>
<rect x="278.1" y="455.6" width="3.4" height="65.6" fill="#b3b5b8"/>
<rect x="283.3" y="455.6" width="3.4" height="65.6" fill="#939598"/>
<rect x="288.5" y="455.6" width="3.4" height="65.6" fill="#dddedf"/>
<rect x="297.38" y="483.6" width="3.4" height="37.6" fill="#231f20"/>
<rect x="302.58" y="481.6" width="3.4" height="39.6" fill="#b3b5b8"/>
<rect x="307.78" y="476.4" width="3.4" height="44.8" fill="#939598"/>
<rect x="312.98" y="473.4" width="3.4" height="47.8" fill="#dddedf"/>
<path d="M299.5 479.4V483.6M298.6 479.4h1.8" stroke="#3a3a3a" stroke-width="0.62" fill="none"/>
<path d="M304.5 477V486.6M303.6 477h1.8M303.6 486.6h1.8" stroke="#4a4a4a" stroke-width="0.62" fill="none"/>
<path d="M309.5 471.4V481.4M308.6 471.4h1.8M308.6 481.4h1.8" stroke="#444444" stroke-width="0.62" fill="none"/>
<path d="M314.5 470V476M313.6 470h1.8M313.6 476h1.8" stroke="#505050" stroke-width="0.62" fill="none"/>
<rect x="321.86" y="487.4" width="3.4" height="33.8" fill="#231f20"/>
<rect x="327.06" y="493.4" width="3.4" height="27.8" fill="#b3b5b8"/>
<rect x="332.26" y="487.6" width="3.4" height="33.6" fill="#939598"/>
<rect x="337.46" y="482" width="3.4" height="39.2" fill="#dddedf"/>
<path d="M323.5 483.4V487.4M322.6 483.4h1.8" stroke="#3a3a3a" stroke-width="0.62" fill="none"/>
<path d="M328.5 491.4V495.6M327.6 491.4h1.8M327.6 495.6h1.8" stroke="#4a4a4a" stroke-width="0.62" fill="none"/>
<path d="M333.5 486V489.4M332.6 486h1.8M332.6 489.4h1.8" stroke="#444444" stroke-width="0.62" fill="none"/>
<path d="M339.5 480V484M338.6 480h1.8M338.6 484h1.8" stroke="#505050" stroke-width="0.62" fill="none"/>
<rect x="346.34" y="497" width="3.4" height="24.2" fill="#231f20"/>
<rect x="351.54" y="496.4" width="3.4" height="24.8" fill="#b3b5b8"/>
<rect x="356.74" y="493" width="3.4" height="28.2" fill="#939598"/>
<rect x="361.94" y="488.6" width="3.4" height="32.6" fill="#dddedf"/>
<path d="M348.5 495.6V497M347.6 495.6h1.8" stroke="#3a3a3a" stroke-width="0.62" fill="none"/>
<path d="M353.5 494.4V499M352.6 494.4h1.8M352.6 499h1.8" stroke="#4a4a4a" stroke-width="0.62" fill="none"/>
<path d="M358.5 491.4V494.4M357.6 491.4h1.8M357.6 494.4h1.8" stroke="#444444" stroke-width="0.62" fill="none"/>
<path d="M363.5 486V490.6M362.6 486h1.8M362.6 490.6h1.8" stroke="#505050" stroke-width="0.62" fill="none"/>
<rect x="370.82" y="501" width="3.4" height="20.2" fill="#231f20"/>
<rect x="376.02" y="503.4" width="3.4" height="17.8" fill="#b3b5b8"/>
<rect x="381.22" y="500.6" width="3.4" height="20.6" fill="#939598"/>
<rect x="386.42" y="492" width="3.4" height="29.2" fill="#dddedf"/>
<path d="M372.5 499.6V501M371.6 499.6h1.8" stroke="#3a3a3a" stroke-width="0.62" fill="none"/>
<path d="M377.5 501.4V506M376.6 501.4h1.8M376.6 506h1.8" stroke="#4a4a4a" stroke-width="0.62" fill="none"/>
<path d="M382.5 497.6V504M381.6 497.6h1.8M381.6 504h1.8" stroke="#444444" stroke-width="0.62" fill="none"/>
<path d="M388.5 489.4V495M387.6 489.4h1.8M387.6 495h1.8" stroke="#505050" stroke-width="0.62" fill="none"/>
<rect x="395.3" y="505" width="3.4" height="16.2" fill="#231f20"/>
<rect x="400.5" y="506.4" width="3.4" height="14.8" fill="#b3b5b8"/>
<rect x="405.7" y="504" width="3.4" height="17.2" fill="#939598"/>
<rect x="410.9" y="496.6" width="3.4" height="24.6" fill="#dddedf"/>
<path d="M396.5 504.4V505M395.6 504.4h1.8" stroke="#3a3a3a" stroke-width="0.62" fill="none"/>
<path d="M402.5 503.6V508.4M401.6 503.6h1.8M401.6 508.4h1.8" stroke="#4a4a4a" stroke-width="0.62" fill="none"/>
<path d="M407.5 501V507.4M406.6 501h1.8M406.6 507.4h1.8" stroke="#444444" stroke-width="0.62" fill="none"/>
<path d="M412.5 493.4V499M411.6 493.4h1.8M411.6 499h1.8" stroke="#505050" stroke-width="0.62" fill="none"/>
<path d="M270.1 422.6V521.2" stroke="#444" stroke-width="0.8" fill="none"/>
<path d="M267.5 423H270.4M267.5 455.73H270.4M267.5 488.47H270.4M267.5 521.2H270.4" stroke="#2a2a2a" stroke-width="0.8" fill="none"/>
<path d="M269.8 521.2H418M282.4 521.2V523.6M306.88 521.2V523.6M331.36 521.2V523.6M355.84 521.2V523.6M380.32 521.2V523.6M404.8 521.2V523.6" stroke="#222" stroke-width="1" fill="none"/>
<text class="y" x="262.7" y="426">1.5</text>
<text class="y" x="262.7" y="459">1.0</text>
<text class="y" x="262.7" y="492">0.5</text>
<text class="y" x="262.7" y="524">0.0</text>
<text class="yl" font-size="8.6px" transform="translate(242.3 472.1) rotate(-90) scale(1 1)">Relative Absorbance</text>
<text class="x" transform="translate(287.7 532.6) rotate(-45)">DMSO</text>
<text class="x" transform="translate(312.18 532.6) rotate(-45)">10nM</text>
<text class="x" transform="translate(336.66 532.6) rotate(-45)">50nM</text>
<text class="x" transform="translate(361.14 532.6) rotate(-45)">100nM</text>
<text class="x" transform="translate(385.62 532.6) rotate(-45)">500nM</text>
<text class="x" transform="translate(410.1 532.6) rotate(-45)">1uM</text>
<rect x="396" y="422.05" width="9.8" height="4.7" fill="#231f20"/>
<text class="l" transform="translate(410.6 427) scale(0.955 1)">GFP – dox</text>
<rect x="396" y="434.25" width="9.8" height="4.7" fill="#b3b5b8"/>
<text class="l" transform="translate(410.6 439) scale(0.955 1)">GFP + dox</text>
<rect x="396" y="446.65" width="9.8" height="4.7" fill="#939598"/>
<text class="l" transform="translate(410.6 452) scale(0.955 1)">SHPRH – dox</text>
<rect x="396" y="458.85" width="9.8" height="4.7" fill="#dddedf"/>
<text class="l" transform="translate(410.6 464) scale(0.955 1)">SHPRH + dox</text>
<path d="M333.4 484V475.4H339.6V479" stroke="#151515" stroke-width="0.8" fill="none"/>
<text class="s" font-size="10px" letter-spacing="1.51px" x="337.15" y="474.18">*</text>
</g>
<g>
<text class="t" font-size="9.8px" x="541.6" y="413">PC9</text><text class="u" x="560.7" y="409">SHPRH-WT</text>
<rect x="504" y="455.6" width="3.4" height="65.6" fill="#231f20"/>
<rect x="509.2" y="455.6" width="3.4" height="65.6" fill="#b3b5b8"/>
<rect x="514.4" y="455.6" width="3.4" height="65.6" fill="#939598"/>
<rect x="519.6" y="455.6" width="3.4" height="65.6" fill="#dddedf"/>
<rect x="528.48" y="470.2" width="3.4" height="51" fill="#231f20"/>
<rect x="533.68" y="470.4" width="3.4" height="50.8" fill="#b3b5b8"/>
<rect x="538.88" y="462.6" width="3.4" height="58.6" fill="#939598"/>
<rect x="544.08" y="464" width="3.4" height="57.2" fill="#dddedf"/>
<path d="M530.5 466.6V470.2M529.6 466.6h1.8" stroke="#3a3a3a" stroke-width="0.62" fill="none"/>
<path d="M535.5 468.6V471.6M534.6 468.6h1.8M534.6 471.6h1.8" stroke="#4a4a4a" stroke-width="0.62" fill="none"/>
<path d="M540.5 458.4V466.6M539.6 458.4h1.8M539.6 466.6h1.8" stroke="#444444" stroke-width="0.62" fill="none"/>
<path d="M545.5 457.4V471M544.6 457.4h1.8M544.6 471h1.8" stroke="#505050" stroke-width="0.62" fill="none"/>
<rect x="552.96" y="485.4" width="3.4" height="35.8" fill="#231f20"/>
<rect x="558.16" y="476" width="3.4" height="45.2" fill="#b3b5b8"/>
<rect x="563.36" y="474" width="3.4" height="47.2" fill="#939598"/>
<rect x="568.56" y="479" width="3.4" height="42.2" fill="#dddedf"/>
<path d="M554.5 482.6V485.4M553.6 482.6h1.8" stroke="#3a3a3a" stroke-width="0.62" fill="none"/>
<path d="M559.5 470.6V481.4M558.6 470.6h1.8M558.6 481.4h1.8" stroke="#4a4a4a" stroke-width="0.62" fill="none"/>
<path d="M565.5 467.4V481M564.6 467.4h1.8M564.6 481h1.8" stroke="#444444" stroke-width="0.62" fill="none"/>
<path d="M570.5 474.4V484M569.6 474.4h1.8M569.6 484h1.8" stroke="#505050" stroke-width="0.62" fill="none"/>
<rect x="577.44" y="498" width="3.4" height="23.2" fill="#231f20"/>
<rect x="582.64" y="490.4" width="3.4" height="30.8" fill="#b3b5b8"/>
<rect x="587.84" y="488.4" width="3.4" height="32.8" fill="#939598"/>
<rect x="593.04" y="495" width="3.4" height="26.2" fill="#dddedf"/>
<path d="M579.5 496.4V498M578.6 496.4h1.8" stroke="#3a3a3a" stroke-width="0.62" fill="none"/>
<path d="M584.5 485.4V494.4M583.6 485.4h1.8M583.6 494.4h1.8" stroke="#4a4a4a" stroke-width="0.62" fill="none"/>
<path d="M589.5 485.4V492M588.6 485.4h1.8M588.6 492h1.8" stroke="#444444" stroke-width="0.62" fill="none"/>
<path d="M594.5 493.4V496.4M593.6 493.4h1.8M593.6 496.4h1.8" stroke="#505050" stroke-width="0.62" fill="none"/>
<rect x="601.92" y="515.8" width="3.4" height="5.4" fill="#231f20"/>
<rect x="607.12" y="514.6" width="3.4" height="6.6" fill="#b3b5b8"/>
<rect x="612.32" y="515.8" width="3.4" height="5.4" fill="#939598"/>
<rect x="617.52" y="514.8" width="3.4" height="6.4" fill="#dddedf"/>
<path d="M603.5 515.8V515.8M602.6 515.8h1.8" stroke="#3a3a3a" stroke-width="0.62" fill="none"/>
<path d="M608.5 514.2V515.8M607.6 514.2h1.8M607.6 515.8h1.8" stroke="#4a4a4a" stroke-width="0.62" fill="none"/>
<path d="M614.5 515.4V516.6M613.6 515.4h1.8M613.6 516.6h1.8" stroke="#444444" stroke-width="0.62" fill="none"/>
<path d="M619.5 514.2V515.8M618.6 514.2h1.8M618.6 515.8h1.8" stroke="#505050" stroke-width="0.62" fill="none"/>
<rect x="626.4" y="517.2" width="3.4" height="4" fill="#231f20"/>
<rect x="631.6" y="516.5" width="3.4" height="4.7" fill="#b3b5b8"/>
<rect x="636.8" y="517.5" width="3.4" height="3.7" fill="#939598"/>
<rect x="642" y="515.8" width="3.4" height="5.4" fill="#dddedf"/>
<path d="M628.5 516.8V517.2M627.6 516.8h1.8" stroke="#3a3a3a" stroke-width="0.62" fill="none"/>
<path d="M633.5 515.4V517.8M632.6 515.4h1.8M632.6 517.8h1.8" stroke="#4a4a4a" stroke-width="0.62" fill="none"/>
<path d="M638.5 517V518.2M637.6 517h1.8M637.6 518.2h1.8" stroke="#444444" stroke-width="0.62" fill="none"/>
<path d="M643.5 515.4V517.2M642.6 515.4h1.8M642.6 517.2h1.8" stroke="#505050" stroke-width="0.62" fill="none"/>
<path d="M500.6 422.6V521.2" stroke="#444" stroke-width="0.8" fill="none"/>
<path d="M498 423H500.9M498 455.73H500.9M498 488.47H500.9M498 521.2H500.9" stroke="#2a2a2a" stroke-width="0.8" fill="none"/>
<path d="M500.3 521.2H648.8M513.5 521.2V523.6M537.98 521.2V523.6M562.46 521.2V523.6M586.94 521.2V523.6M611.42 521.2V523.6M635.9 521.2V523.6" stroke="#222" stroke-width="1" fill="none"/>
<text class="y" x="493.7" y="426">1.5</text>
<text class="y" x="493.7" y="459">1.0</text>
<text class="y" x="493.7" y="492">0.5</text>
<text class="y" x="493.7" y="524">0.0</text>
<text class="yl" font-size="8.6px" transform="translate(473.3 472.1) rotate(-90) scale(1 1)">Relative Absorbance</text>
<text class="x" transform="translate(518.8 532.6) rotate(-45)">DMSO</text>
<text class="x" transform="translate(543.28 532.6) rotate(-45)">100nM</text>
<text class="x" transform="translate(567.76 532.6) rotate(-45)">500nM</text>
<text class="x" transform="translate(592.24 532.6) rotate(-45)">1uM</text>
<text class="x" transform="translate(616.72 532.6) rotate(-45)">5uM</text>
<text class="x" transform="translate(641.2 532.6) rotate(-45)">10uM</text>
<rect x="627.4" y="429.25" width="9.8" height="4.7" fill="#231f20"/>
<text class="l" transform="translate(641 434) scale(0.955 1)">GFP – dox</text>
<rect x="627.4" y="441.65" width="9.8" height="4.7" fill="#b3b5b8"/>
<text class="l" transform="translate(641 447) scale(0.955 1)">GFP + dox</text>
<rect x="627.4" y="453.85" width="9.8" height="4.7" fill="#939598"/>
<text class="l" transform="translate(641 459) scale(0.955 1)">SHPRH – dox</text>
<rect x="627.4" y="466.05" width="9.8" height="4.7" fill="#dddedf"/>
<text class="l" transform="translate(641 471) scale(0.955 1)">SHPRH + dox</text>
<path d="M638.4 514.6V509.6H644.4V514" stroke="#151515" stroke-width="0.8" fill="none"/>
<text class="s" font-size="10.5px" letter-spacing="1.32px" x="642.06" y="508.83">*</text>
</g>
</svg>
</body></html>
